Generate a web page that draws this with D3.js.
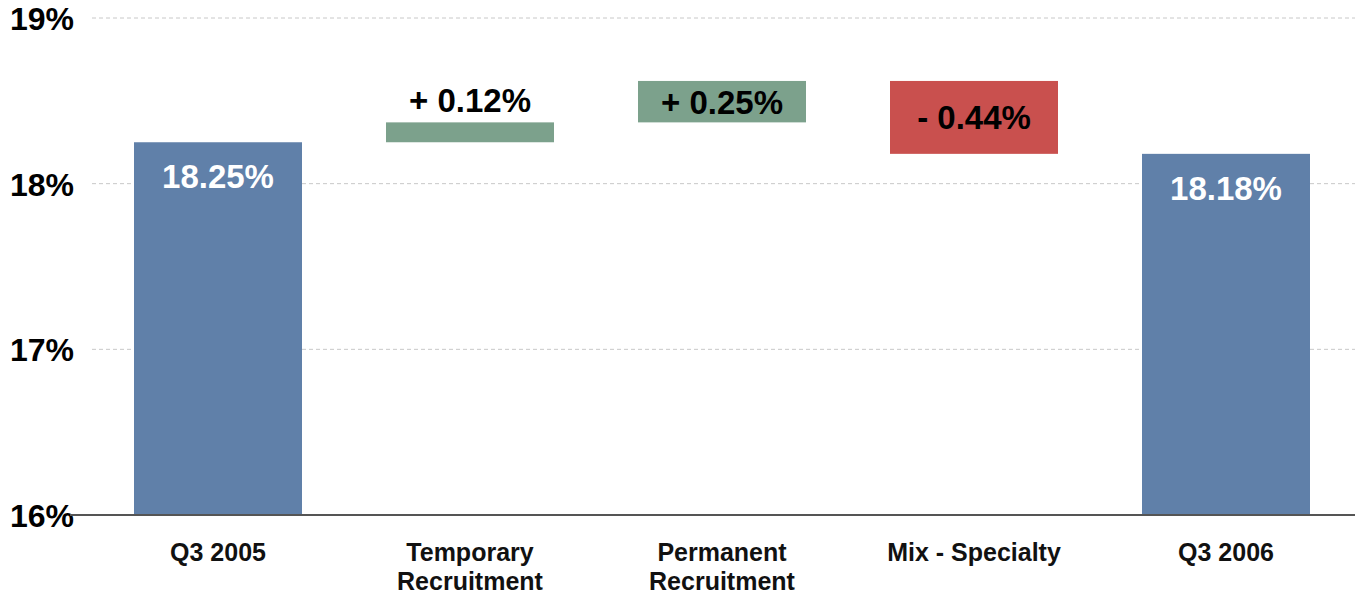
<!DOCTYPE html>
<html>
<head>
<meta charset="utf-8">
<script src="https://cdn.jsdelivr.net/npm/d3@7"></script>
<style>
  body { margin: 0; background: #fff; }
  text { font-family: "Liberation Sans", Arial, sans-serif; font-weight: bold; }
</style>
</head>
<body>
<svg width="1362" height="598"></svg>
<script>
var categories = ["Q3 2005", "Temporary\nRecruitment", "Permanent\nRecruitment", "Mix - Specialty", "Q3 2006"];
var kinds = ["total", "delta", "delta", "delta", "total"];
var values = [18.25, 0.12, 0.25, -0.44, 18.18];
var labels = ["18.25%", "+ 0.12%", "+ 0.25%", "- 0.44%", "18.18%"];
var yTicks = [16, 17, 18, 19];

var svg = d3.select("svg");

var x = d3.scaleBand()
    .domain(categories)
    .range([92, 1352])
    .paddingInner(1 / 3)
    .paddingOuter(1 / 6);

var y = d3.scaleLinear()
    .domain([16, 19])
    .range([515, 18]);

var color = { total: "#6080a9", up: "#7ca18c", down: "#c9504e" };

// running totals for the waterfall
var running = 0;
var bars = categories.map(function(c, i) {
  var d = { cat: c, kind: kinds[i], label: labels[i] };
  if (kinds[i] == "total") {
    d.y0 = 16; d.y1 = values[i]; running = values[i];
    d.fill = color.total;
  } else {
    d.y0 = running; d.y1 = running + values[i]; running = d.y1;
    d.fill = values[i] >= 0 ? color.up : color.down;
  }
  return d;
});

// gridlines
svg.append("g")
  .selectAll("line")
  .data(yTicks.slice(1))
  .enter().append("line")
    .attr("x1", 92)
    .attr("x2", 1355)
    .attr("y1", function(d) { return y(d); })
    .attr("y2", function(d) { return y(d); })
    .attr("stroke", "#c8c8c8")
    .attr("stroke-width", 1)
    .attr("stroke-dasharray", "4,3");

// y labels
svg.append("g")
  .selectAll("text")
  .data(yTicks)
  .enter().append("text")
    .attr("x", 74)
    .attr("y", function(d) { return y(d) + 12; })
    .attr("text-anchor", "end")
    .attr("font-size", 32)
    .attr("fill", "#000")
    .text(function(d) { return d + "%"; });

// bars
svg.append("g")
  .selectAll("rect")
  .data(bars)
  .enter().append("rect")
    .attr("x", function(d) { return x(d.cat); })
    .attr("width", x.bandwidth())
    .attr("y", function(d) { return y(Math.max(d.y0, d.y1)); })
    .attr("height", function(d) { return Math.abs(y(d.y0) - y(d.y1)); })
    .attr("fill", function(d) { return d.fill; });

// value labels
svg.append("g")
  .selectAll("text")
  .data(bars)
  .enter().append("text")
    .attr("x", function(d) { return x(d.cat) + x.bandwidth() / 2; })
    .attr("y", function(d) {
      var top = y(Math.max(d.y0, d.y1)), bot = y(Math.min(d.y0, d.y1));
      if (d.kind == "total") return top + 46;
      if (bot - top < 40) return top - 10;
      return (top + bot) / 2 + 12;
    })
    .attr("text-anchor", "middle")
    .attr("font-size", 33)
    .attr("fill", function(d) { return d.kind == "total" ? "#fff" : "#000"; })
    .text(function(d) { return d.label; });

// baseline
svg.append("line")
    .attr("x1", 70)
    .attr("x2", 1355)
    .attr("y1", y(16))
    .attr("y2", y(16))
    .attr("stroke", "#555")
    .attr("stroke-width", 2);

// category labels
svg.append("g")
  .selectAll("text")
  .data(categories)
  .enter().append("text")
    .attr("x", function(d) { return x(d) + x.bandwidth() / 2; })
    .attr("y", 561)
    .attr("text-anchor", "middle")
    .attr("font-size", 25)
    .attr("fill", "#111")
    .each(function(d) {
      var t = d3.select(this);
      d.split("\n").forEach(function(line, i) {
        t.append("tspan")
          .attr("x", x(d) + x.bandwidth() / 2)
          .attr("dy", i == 0 ? 0 : 29)
          .text(line);
      });
    });
</script>
</body>
</html>
